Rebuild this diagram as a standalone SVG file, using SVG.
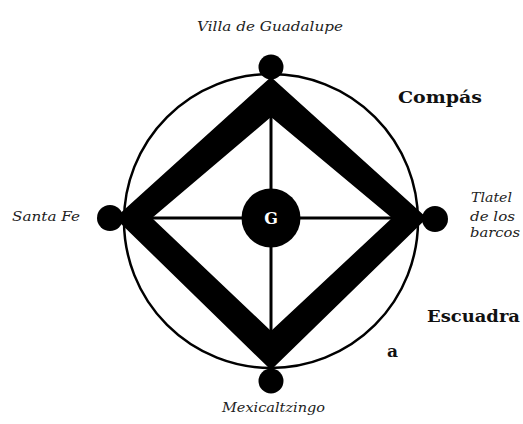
<svg xmlns="http://www.w3.org/2000/svg" width="523" height="424" viewBox="0 0 523 424">
<style>
.it{font-family:"DejaVu Serif","Liberation Serif",serif;font-style:italic;font-size:12.5px;fill:#222}
.bd{font-family:"DejaVu Serif","Liberation Serif",serif;font-weight:bold;font-size:17px;fill:#111}
.dot{fill:#000}
.ln{stroke:#000;stroke-width:3;fill:none}
</style>
<rect width="523" height="424" fill="#fff"/>
<g id="connectors">
<circle cx="271" cy="221" r="147" fill="none" stroke="#000" stroke-width="2.5"/>
<path d="M271,77 L427,218 L271,370 L115,218 Z M271,117 L392,218 L271,331 L152,218 Z" fill="#000" fill-rule="evenodd"/>
<line class="ln" x1="271" y1="112" x2="271" y2="336"/>
<line class="ln" x1="148" y1="218" x2="396" y2="218"/>
</g>
<g id="center-G">
<circle cx="271" cy="218" r="29.5" fill="#000"/>
<text x="271" y="224" text-anchor="middle" font-family="DejaVu Serif, serif" font-weight="bold" font-size="16" fill="#fff">G</text>
</g>
<g id="villa-de-guadalupe">
<circle class="dot" cx="271" cy="67" r="12.5"/>
<text class="it" x="197" y="31" textLength="146" lengthAdjust="spacingAndGlyphs">Villa de Guadalupe</text>
</g>
<g id="santa-fe">
<circle class="dot" cx="110" cy="218" r="13"/>
<text class="it" x="12" y="221" textLength="68" lengthAdjust="spacingAndGlyphs">Santa Fe</text>
</g>
<g id="tlatel">
<circle class="dot" cx="435" cy="219" r="13"/>
<text class="it" x="471" y="202" textLength="41" lengthAdjust="spacingAndGlyphs">Tlatel</text>
<text class="it" x="470" y="221" textLength="45" lengthAdjust="spacingAndGlyphs">de los</text>
<text class="it" x="470" y="237" textLength="50" lengthAdjust="spacingAndGlyphs">barcos</text>
</g>
<g id="mexicaltzingo">
<circle class="dot" cx="271" cy="381" r="12.5"/>
<text class="it" x="222" y="412" textLength="103" lengthAdjust="spacingAndGlyphs">Mexicaltzingo</text>
</g>
<g id="labels">
<text class="bd" x="398" y="103" textLength="84" lengthAdjust="spacingAndGlyphs">Compás</text>
<text class="bd" x="427" y="322" textLength="93" lengthAdjust="spacingAndGlyphs">Escuadra</text>
<text class="bd" x="387" y="357">a</text>
</g>
</svg>
